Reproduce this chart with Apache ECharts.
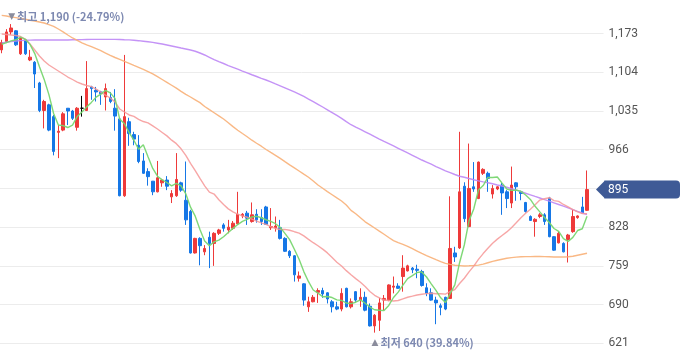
<!DOCTYPE html>
<html><head><meta charset="utf-8">
<script src="https://cdn.jsdelivr.net/npm/echarts@6/dist/echarts.min.js"></script>
<style>html,body{margin:0;padding:0;background:#fff}#c{width:680px;height:358px}</style>
</head><body><div id="c"></div>
<script>
const opens  = [1144,1159,1176,1178,1137,1162,1126,1122,1085,1036,1046,1025,997,1001,1040,1035,1006,1040,1036,1078,
1072,1069,1060,1059,1040,1021,884,1016,993,974,946,927,910,891,907,912,882,884,907,876,
856,782,808,784,810,799,817,832,823,826,834,848,853,838,851,845,864,827,827,827,
808,785,777,737,727,686,695,712,715,711,695,686,682,719,686,713,698,703,687,652,
662,698,698,721,723,740,750,755,753,749,720,711,698,688,703,701,782,791,901,829,
900,879,924,924,887,896,903,891,871,907,891,872,847,838,847,850,880,811,800,799,
806,820,845,864,858];
const highs  = [1162,1181,1190,1179,1167,1163,1144,1124,1087,1055,1048,1028,1010,1033,1040,1037,1042,1062,1124,1080,
1078,1071,1084,1069,1074,1022,1135,1023,998,992,960,933,910,946,914,919,894,960,909,945,
859,809,810,796,820,819,825,835,841,839,891,853,857,872,860,860,866,862,847,841,
810,787,778,749,728,704,707,719,720,712,698,695,719,720,701,714,719,713,692,673,
702,707,726,740,728,778,761,757,761,752,728,719,704,692,704,883,793,998,908,977,
944,945,933,927,903,901,907,894,936,908,893,873,849,844,853,853,882,812,820,801,
816,859,849,882,929];
const lows   = [1138,1156,1171,1151,1135,1135,1124,1076,1033,1004,999,956,951,999,1010,1019,1000,1025,1035,1055,
1052,1046,1036,1049,1000,883,882,973,974,942,923,902,885,890,900,894,871,882,891,832,
781,781,760,778,755,759,814,820,817,823,832,844,832,836,836,832,832,823,820,806,
784,773,731,731,688,677,694,693,702,692,676,680,678,685,683,695,686,678,651,640,
643,680,696,710,718,713,749,746,737,722,705,697,655,671,680,700,766,789,837,828,
891,878,921,891,879,894,850,862,862,875,876,854,839,811,844,832,810,786,799,783,
765,818,843,852,857];
const closes = [1157,1176,1183,1153,1165,1137,1131,1101,1036,1052,1001,963,999,1030,1035,1022,1040,1040,1075,1075,
1069,1066,1075,1052,1026,884,1025,995,985,945,924,918,891,916,912,901,888,913,894,841,
782,808,795,790,799,817,823,826,828,835,851,851,844,850,841,838,833,829,830,808,
785,777,743,741,698,695,703,715,709,700,686,682,710,686,695,698,703,680,652,671,
693,701,725,723,719,755,759,752,751,724,710,698,693,685,682,790,775,891,843,897,
896,944,931,915,897,900,889,879,903,900,888,856,840,842,850,838,811,787,817,784,
814,847,848,853,895];

const ma5 = [1154,1157,1160,1162,1166.8,1162.8,1153.8,1137.4,1114,1091.4,1064.2,1030.6,1010.2,1009,1005.6,1009.8,1025.2,1033.4,1042.4,1050.4,
1059.8,1065,1072,1067.4,1057.6,1020.6,1012.4,996.4,983,966.8,974.8,953.4,932.6,918.8,912.2,907.6,901.6,906,901.6,887.4,
863.6,847.6,824,803.2,794.8,801.8,804.8,811,818.6,825.8,832.6,838.2,841.8,846.2,847.4,844.8,841.2,838.2,834.2,827.6,
817,805.8,788.6,770.8,748.8,730.8,716,710.4,704,704.4,702.6,698.4,697.4,692.8,691.8,694.2,698.4,692.4,685.6,680.8,
679.8,679.4,688.4,702.6,712.2,724.6,736.2,741.6,747.2,748.2,739.2,727,715.2,702,693.6,709.6,725,764.6,796.2,839.2,
860.4,894.2,902.2,916.6,916.6,917.4,906.4,896,893.6,894.2,891.8,885.2,877.4,865.2,855.2,845.2,836.2,825.6,820.6,807.4,
802.6,809.8,822,825.2,847.4];
const ma20 = [1172.3,1171.4,1170.5,1169.6,1167.8,1163.4,1154.5,1143.8,1133.1,1124.2,1117,1111.7,1106.4,1101,1095.6,1091.2,1086.7,1083.2,1080.5,1078.6,
1074.2,1068.7,1063.3,1058.2,1051.3,1038.6,1033.3,1028,1025.5,1020.1,1016.3,1014,1008.6,1002.9,996.8,990.7,983.1,976.8,967.7,956,
941.7,928.8,914.8,901.7,890.3,887,876.9,868.4,860.6,855.1,851.4,848.1,845.7,842.4,838.9,835.7,833,828.8,825.6,823.9,
824.1,822.5,819.9,817.5,812.4,806.3,800.3,794.8,788.8,782.1,773.8,765.4,758.7,750.5,743.2,736.2,729.7,722.2,713.3,706.5,
701.9,698.1,697.2,696.3,697.3,700.3,703.1,705,707.1,708.3,709.5,710.3,709.4,709.4,708.7,713.3,716.9,727.5,737,748.3,
758.5,770.6,780.9,790.5,799.4,806.7,813.2,819.5,827.1,835.9,844.8,852.7,860.1,867.9,876.3,878.7,880.5,875.3,874,868.4,
864.3,859.4,855.3,852.2,852.1];
const ma60 = [1205.6,1204.4,1202.6,1201.5,1200.1,1198.5,1196.9,1195.5,1193.7,1191.9,1189.1,1186,1181.2,1176.2,1170.5,1165.2,1160.9,1156.6,1153,1149.7,
1146.1,1142.5,1138.4,1134.3,1130.4,1127,1123.6,1120.1,1116.3,1112.8,1109.2,1105.3,1101.2,1096.2,1091.2,1086.2,1081,1075.7,1070,1064.6,
1060,1055,1050,1043.1,1037.5,1032,1026.5,1020.8,1014.2,1007.2,1000.8,994.9,989.1,983,977.6,972.3,966.4,961.2,956.1,950.6,
944.8,939.1,933.6,928.1,922.4,916.9,910.3,903.1,897.3,891.4,885.8,880.1,874.6,867.5,857.9,851.8,844.7,837.5,832,826.5,
820.8,815.3,809.6,804,800.3,797.4,793.9,789.8,785.5,781.2,777.3,773.7,770,766.6,763.4,761.6,760,759.5,758.8,759.1,
759.6,760.4,762,764.6,767,769.1,770.9,772.5,773.7,774.6,775.3,775.5,775.5,775.7,775.7,775.5,775.2,774.8,774.8,774.8,
775.2,776.2,778,779.8,781.6];
const ma120 = [1156.3,1157.7,1158.9,1159.8,1160.5,1161.1,1161.4,1161.6,1161.6,1161.6,1161.6,1161.6,1161.6,1161.6,1161.6,1162,1162.1,1162.3,1162.5,1162.7,
1162.8,1162.8,1162.8,1162.8,1162.7,1162.5,1162.1,1161.8,1161.2,1160.4,1159.5,1158.4,1157.3,1155.9,1154.5,1152.7,1150.9,1149.1,1147.3,1145.6,
1143.8,1141.6,1138.4,1134.9,1130.8,1126.7,1123.1,1119.7,1116.1,1112.9,1109.6,1106.3,1103.1,1099.7,1096.5,1093.3,1090.3,1087.1,1083.5,1080,
1076.4,1072.8,1069.1,1065.3,1061.1,1056.4,1051.8,1047,1042.2,1037.2,1032.2,1027.2,1022,1016,1010.6,1006.2,1002.1,998,993.7,989.4,
985.1,980.9,976.8,972.7,968.6,964.5,960.2,956.1,951.8,947.7,944.1,940.2,936.1,932.2,928.4,925.2,921.9,918.8,916.9,914.7,
912.6,910.6,908.8,907.1,905.3,903.1,901.4,899.2,896.5,893.9,891.4,888.5,885.7,882.8,880,877.1,874.3,871.4,868.4,865.4,
862.3,859.3,856.1,853.2,850.6];

const yTickMin = 552, yTickMax = 1242, yTickStep = 69;
const padSlots = 3;
const categories = opens.map((_, i) => 'D' + (i + 1)).concat(Array.from({length: padSlots}, (_, i) => 'P' + i));

const UP = '#ee3a3a', DOWN = '#1677e6';
const candleData = opens.map((o, i) => [o, closes[i], lows[i], highs[i]]);

let iMax = 0, iMin = 0;
highs.forEach((v, i) => { if (v > highs[iMax]) iMax = i; });
lows.forEach((v, i) => { if (v < lows[iMin]) iMin = i; });
const last = closes[closes.length - 1];
const pct = v => ((last - v) / v * 100).toFixed(2);
const fmt = v => v.toLocaleString('en-US');
const labelFont = '"Noto Sans CJK KR", "Noto Sans", sans-serif';

const chart = echarts.init(document.getElementById('c'), null, {renderer: 'canvas'});
const lineSeries = (name, data, color) => ({
  name, type: 'line', data, showSymbol: false, symbol: 'none', smooth: false,
  lineStyle: {color, width: 1.4}, z: 3, silent: true
});
chart.setOption({
  animation: false,
  grid: {left: -0.66, top: -5.1, width: 604.2, height: 387.1, containLabel: false, outerBoundsMode: 'none'},
  xAxis: {type: 'category', data: categories, boundaryGap: true, show: false},
  yAxis: {
    type: 'value', position: 'right', min: yTickMin, max: yTickMax, interval: yTickStep,
    axisLine: {show: false}, axisTick: {show: false},
    splitLine: {show: true, lineStyle: {color: '#ececec', width: 1}},
    axisLabel: {show: true, margin: 5, color: '#555', fontSize: 12, fontFamily: 'Roboto, "Noto Sans", sans-serif',
      showMinLabel: false, showMaxLabel: false,
      formatter: v => (Math.abs(v - last) < yTickStep / 4 ? '' : fmt(v))}
  },
  series: [
    {
      type: 'candlestick', data: candleData, barWidth: 3, z: 2,
      itemStyle: {color: UP, color0: DOWN, borderColor: UP, borderColor0: DOWN, borderColorDoji: '#000', borderWidth: 1},
      markPoint: {
        symbol: 'circle', symbolSize: 1, itemStyle: {color: 'transparent'}, silent: true,
        data: [
          {coord: [iMax, highs[iMax]], label: {show: true, position: 'inside', align: 'left', verticalAlign: 'middle', offset: [-3, -7],
            formatter: '{t|▼}{s|최고 ' + fmt(highs[iMax]) + ' (' + pct(highs[iMax]) + '%)}',
            rich: {t: {fontSize: 9, color: '#8a8c9c', padding: [0, 2, 0, 0], fontFamily: 'DejaVu Sans'}, s: {fontSize: 11, fontWeight: 'bold', color: '#7d89b1', fontFamily: labelFont}}}},
          {coord: [iMin, lows[iMin]], label: {show: true, position: 'inside', align: 'left', verticalAlign: 'middle', offset: [-3, 10],
            formatter: '{t|▲}{s|최저 ' + fmt(lows[iMin]) + ' (' + pct(lows[iMin]) + '%)}',
            rich: {t: {fontSize: 9, color: '#8a8c9c', padding: [0, 2, 0, 0], fontFamily: 'DejaVu Sans'}, s: {fontSize: 11, fontWeight: 'bold', color: '#7d89b1', fontFamily: labelFont}}}}
        ]
      }
    },
    lineSeries('MA120', ma120, 'rgba(190,135,245,0.9)'),
    lineSeries('MA60', ma60, 'rgba(248,176,120,0.9)'),
    lineSeries('MA20', ma20, 'rgba(246,150,150,0.85)'),
    lineSeries('MA5', ma5, 'rgba(120,214,112,0.95)')
  ]
});

const py = chart.convertToPixel({yAxisIndex: 0}, last);
chart.setOption({
  graphic: [{
    type: 'group', right: 0, top: py - 9, z: 100,
    children: [
      {type: 'polygon', z: 100, shape: {points: [[0, 9], [9, 0], [9, 18]]}, style: {fill: '#3f5a96'}},
      {type: 'rect', z: 100, shape: {x: 8.5, y: 0, width: 75.5, height: 18, r: [0, 4, 4, 0]}, style: {fill: '#3f5a96'}},
      {type: 'text', z: 101, x: 12, y: 9, style: {text: fmt(last), fill: '#fff', fontSize: 12, fontFamily: 'Roboto, "Noto Sans", sans-serif', verticalAlign: 'middle'}}
    ]
  }]
});
</script></body></html>
